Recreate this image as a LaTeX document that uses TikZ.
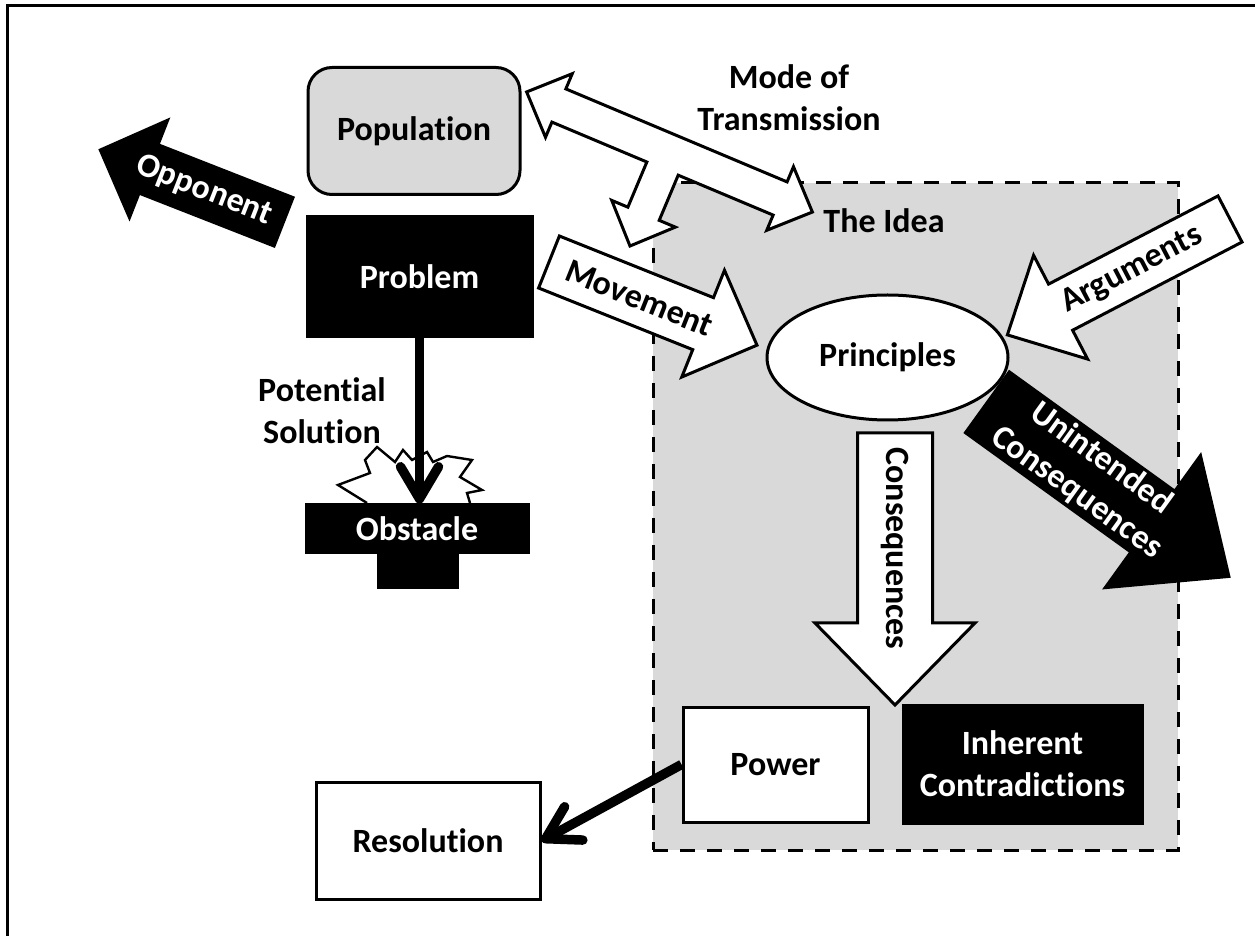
\documentclass[tikz,border=0pt]{standalone}
\usepackage{fontspec}
\setmainfont[Ligatures=NoCommon]{Carlito}
\usepackage{tikz}
\usetikzlibrary{shapes.geometric,arrows.meta}

\definecolor{IdeaGray}{HTML}{D9D9D9}

% block arrow: style, tail, angle, length, shaft, head width, head length, label options, label
\newcommand{\BlockArrow}[9]{%
  \begin{scope}[shift={#2}, rotate=#3]
    \draw[#1] (0,{-#5/2}) -- ({#4-#7},{-#5/2}) -- ({#4-#7},{-#6/2}) -- (#4,0)
      -- ({#4-#7},{#6/2}) -- ({#4-#7},{#5/2}) -- (0,{#5/2}) -- cycle;
    \node[#8] at ({(#4-#7/2)/2},0) {#9};
  \end{scope}}

\begin{document}
\begin{tikzpicture}[x=0.5pt,y=0.5pt,font=\fontsize{17}{21}\selectfont\bfseries]
  \tikzset{BoxStyle/.style = {
    shape         = rectangle,
    draw          = black,
    fill          = white,
    line width    = 1.5pt,
    text          = black,
    align         = center,
    inner sep     = 2pt
    }
  }
  \tikzset{DarkBoxStyle/.style = {
    BoxStyle,
    fill          = black,
    text          = white
    }
  }
  \tikzset{IdeaStyle/.style = {
    shape         = rectangle,
    draw          = black,
    fill          = IdeaGray,
    line width    = 1.5pt,
    dash pattern  = on 7.5pt off 6pt,
    inner sep     = 0pt,
    minimum width = 262.5pt,
    minimum height= 333.5pt
    }
  }
  \tikzset{LabelStyle/.style = {
    text          = black,
    align         = center,
    inner sep     = 0pt
    }
  }
  \tikzset{LightArrowStyle/.style = {
    draw          = black,
    fill          = white,
    line width    = 1.5pt
    }
  }
  \tikzset{DarkArrowStyle/.style = {
    draw          = black,
    fill          = black,
    line width    = 1pt
    }
  }
  \tikzset{ArrowTextLight/.style = {
    text          = black,
    align         = center,
    inner sep     = 0pt
    }
  }
  \tikzset{ArrowTextDark/.style = {
    ArrowTextLight,
    text          = white
    }
  }
  \tikzset{PushStyle/.style = {
    draw          = black,
    line width    = 4.75pt,
    -{Straight Barb[length=16pt,width=19pt,round]}
    }
  }

  \useasboundingbox (0,0) rectangle (1255,-936);
  \draw[line width=1.5pt] (1255,-6) -- (7,-6) -- (7,-936);

  \node[IdeaStyle](Idea) at (915.5,-516.5) {};
  \node[LabelStyle](IdeaLbl) at (884,-221) {The Idea};
  \node[LabelStyle](ModeLbl) at (789,-98) {Mode of\\Transmission};
  \node[LabelStyle](SolLbl) at (322,-411) {Potential\\Solution};

  \node[BoxStyle, fill=IdeaGray, rounded corners=12pt, minimum width=106pt,
    minimum height=63.5pt](Pop) at (414,-131) {Population};
  \node[DarkBoxStyle, minimum width=112.5pt, minimum height=60pt](Prob) at (419.5,-277) {Problem};
  \node[DarkBoxStyle, minimum width=39.5pt, minimum height=17.5pt](ObsBase) at (417.5,-570.5) {};
  \node[DarkBoxStyle, minimum width=111pt, minimum height=24pt](Obs) at (417,-529) {Obstacle};
  \node[BoxStyle, minimum width=92.5pt, minimum height=57.5pt](Power) at (775.5,-764.5) {Power};
  \node[DarkBoxStyle, minimum width=119.5pt, minimum height=59pt](Inher) at (1022.5,-764) {Inherent\\Contradictions};
  \node[BoxStyle, minimum width=112pt, minimum height=58.5pt](Resol) at (428,-841) {Resolution};

  % mode of transmission
  \begin{scope}[shift={(669.5,-152)}, rotate=-22.8]
    \draw[LightArrowStyle] (-155,0) -- (-120,34.5) -- (-120,18) -- (120,18) -- (120,34.5)
      -- (155,0) -- (120,-34.5) -- (120,-18) -- (17,-18) -- (17,-67) -- (34.5,-67)
      -- (0,-102) -- (-34.5,-67) -- (-17,-67) -- (-17,-18) -- (-120,-18)
      -- (-120,-34.5) -- cycle;
  \end{scope}

  \BlockArrow{DarkArrowStyle}{(284,-222)}{158.6}{198}{53}{107}{53}{ArrowTextDark, rotate=-21.4, name=Opp}{Opponent}
  \BlockArrow{LightArrowStyle}{(549,-262)}{-21.8}{224}{56}{115}{58}{ArrowTextLight, rotate=-21.8, name=Mov}{Movement}
  \BlockArrow{LightArrowStyle}{(1230,-219)}{207.5}{251}{52}{117}{60}{ArrowTextLight, rotate=27.5, name=Arg}{Arguments}
  \BlockArrow{DarkArrowStyle}{(987,-402)}{-35.8}{299}{76}{165}{95}{ArrowTextDark, rotate=-35.8, name=Unint}{Unintended\\Consequences}
  \BlockArrow{LightArrowStyle}{(895,-433)}{-90}{272}{75}{160}{82}{ArrowTextLight, rotate=-90, name=Cons}{Consequences}

  \node[BoxStyle, shape=ellipse, inner sep=0pt, minimum width=120.5pt,
    minimum height=62.5pt](Princ) at (887.5,-357.5) {Principles};

  % the burst
  \draw[fill=white, line width=1.2pt, line join=miter] (367,-503) -- (338,-485) -- (370,-473)
    -- (365,-460) -- (377,-447) -- (395,-462) -- (403,-450) -- (412,-460) -- (427,-452)
    -- (433,-462) -- (447,-456) -- (472,-460) -- (460,-477) -- (482,-490) -- (467,-493)
    -- (470,-503);

  \draw[PushStyle] (Prob.south) -- (Prob.south |- Obs.north);
  \draw[PushStyle] (Power.west) -- (Resol.east);
\end{tikzpicture}
\end{document}
